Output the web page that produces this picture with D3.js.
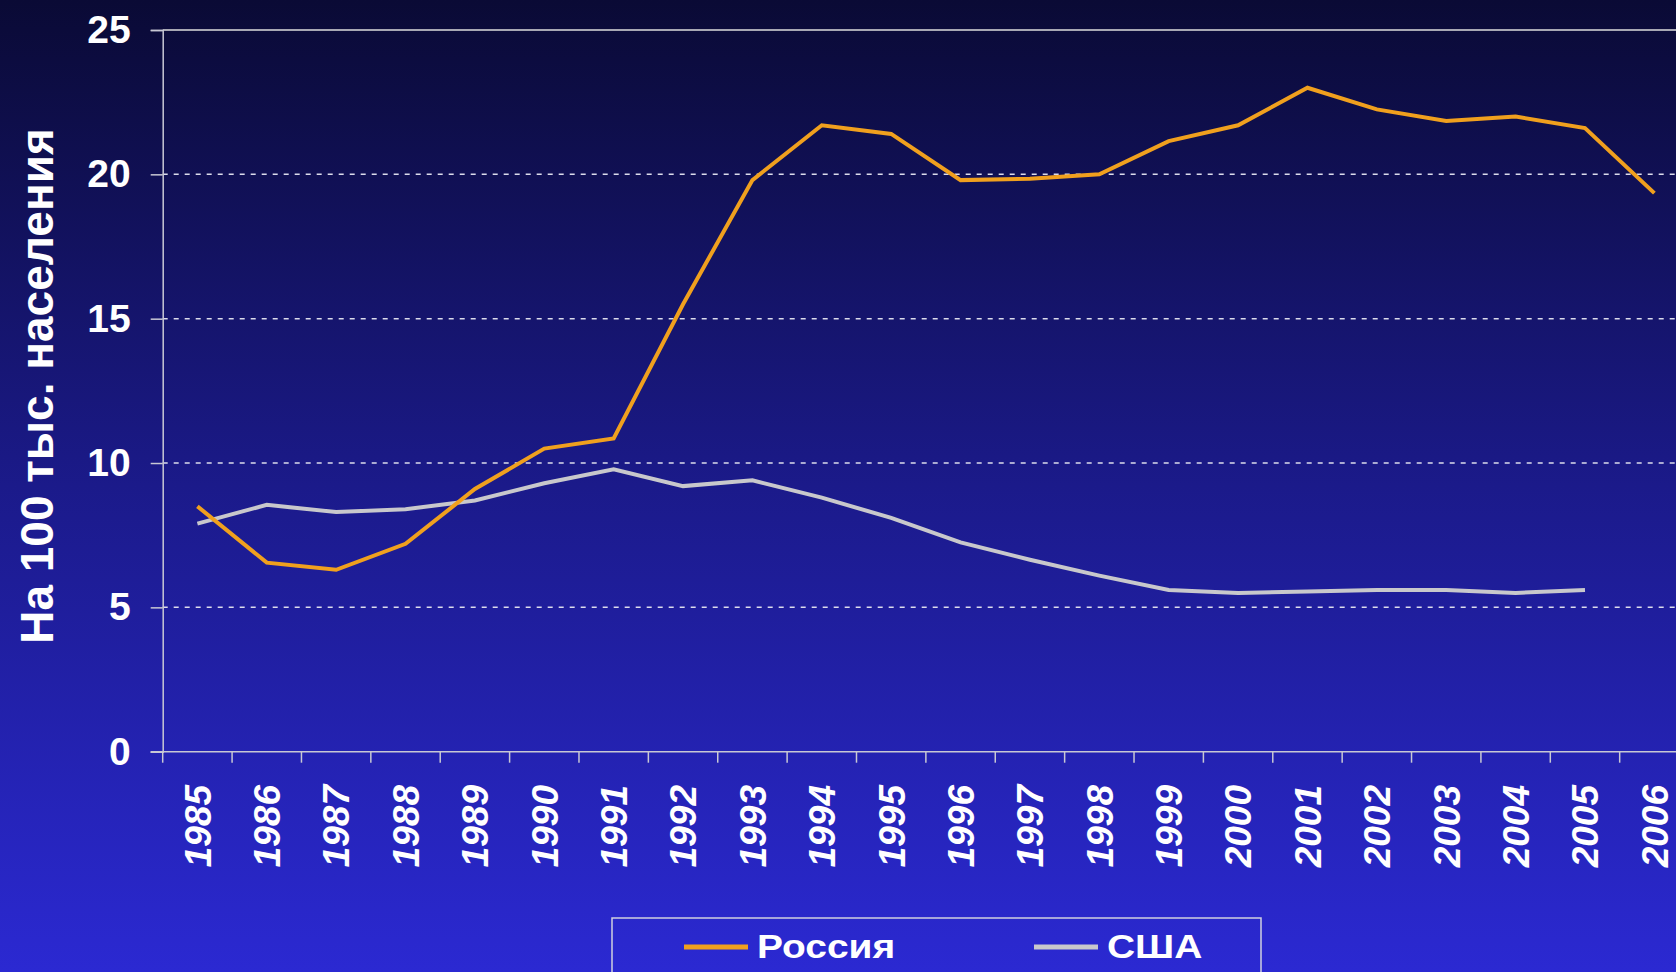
<!DOCTYPE html>
<html>
<head>
<meta charset="utf-8">
<script src="https://cdn.jsdelivr.net/npm/d3@7"></script>
<style>
    html, body { margin: 0; padding: 0; overflow: hidden; }
    svg { display: block; font-family: "Liberation Sans", Arial, sans-serif; }
</style>
</head>
<body>
<svg id="svg-main"></svg>
<script>
const YEARS = [1985, 1986, 1987, 1988, 1989, 1990, 1991, 1992, 1993, 1994, 1995,
               1996, 1997, 1998, 1999, 2000, 2001, 2002, 2003, 2004, 2005, 2006];
const RUSSIA = [8.5, 6.55, 6.3, 7.2, 9.1, 10.5, 10.85, 15.5, 19.8, 21.7, 21.4,
                19.8, 19.85, 20.0, 21.15, 21.7, 23.0, 22.25, 21.85, 22.0, 21.6, 19.35];
const USA = [7.9, 8.55, 8.3, 8.4, 8.7, 9.3, 9.78, 9.2, 9.4, 8.8, 8.1,
             7.25, 6.65, 6.1, 5.6, 5.5, 5.55, 5.6, 5.6, 5.5, 5.6];
const Y_TICKS = [0, 5, 10, 15, 20, 25];
const Y_TITLE = "На 100 тыс. населения";
const SERIES_NAMES = ["Россия", "США"];

var Dims = {
    Width: 1676,
    Height: 972,
    Plot: { Left: 162.7, Top: 30, Bottom: 751.7, Step: 69.38 }
};

var svg = d3.select("#svg-main")
    .attr("width", Dims.Width)
    .attr("height", Dims.Height);

var defs = svg.append("defs");
var grad = defs.append("linearGradient")
    .attr("id", "bg-grad")
    .attr("x1", 0).attr("y1", 0).attr("x2", 0).attr("y2", 1);
grad.append("stop").attr("offset", "0%").attr("stop-color", "#0a0a35");
grad.append("stop").attr("offset", "50%").attr("stop-color", "#1b1a8a");
grad.append("stop").attr("offset", "100%").attr("stop-color", "#2b29d2");

svg.append("rect")
    .attr("width", Dims.Width)
    .attr("height", Dims.Height)
    .attr("fill", "url(#bg-grad)");

var x = d3.scaleBand()
    .domain(YEARS)
    .range([Dims.Plot.Left, Dims.Plot.Left + YEARS.length * Dims.Plot.Step])
    .padding(0);

var y = d3.scaleLinear()
    .domain([0, 25])
    .range([Dims.Plot.Bottom, Dims.Plot.Top]);

var xRight = x.range()[1];
var chart = svg.append("g").attr("id", "main-chart-grp");

// dashed gridlines
chart.selectAll(".grid")
    .data(Y_TICKS.filter(d => d > 0 && d < 25))
    .enter()
    .append("line")
    .attr("class", "grid")
    .attr("x1", Dims.Plot.Left)
    .attr("x2", xRight)
    .attr("y1", d => y(d))
    .attr("y2", d => y(d))
    .attr("stroke", "#dcdcec")
    .attr("stroke-width", 1.5)
    .attr("stroke-dasharray", "5,6");

// top border
chart.append("line")
    .attr("x1", Dims.Plot.Left)
    .attr("x2", xRight)
    .attr("y1", y(25))
    .attr("y2", y(25))
    .attr("stroke", "#a8a8b4")
    .attr("stroke-width", 2);

// y axis
var yAxis = chart.append("g")
    .attr("transform", `translate(${Dims.Plot.Left},0)`)
    .call(d3.axisLeft(y).tickValues(Y_TICKS).tickSize(12).tickPadding(20));
yAxis.select(".domain").attr("stroke", "#c8c8d4").attr("stroke-width", 1.5);
yAxis.selectAll(".tick line").attr("stroke", "#c8c8d4").attr("stroke-width", 1.5);
yAxis.selectAll(".tick text")
    .attr("fill", "#ffffff")
    .attr("font-size", 39)
    .attr("font-weight", "bold")
    .attr("font-family", "'Liberation Sans', Arial, sans-serif");

// x axis
chart.append("line")
    .attr("x1", Dims.Plot.Left - 12)
    .attr("x2", xRight)
    .attr("y1", y(0))
    .attr("y2", y(0))
    .attr("stroke", "#c8c8d4")
    .attr("stroke-width", 1.5);

chart.selectAll(".x-tick")
    .data(YEARS)
    .enter()
    .append("line")
    .attr("class", "x-tick")
    .attr("x1", d => x(d))
    .attr("x2", d => x(d))
    .attr("y1", y(0))
    .attr("y2", y(0) + 11)
    .attr("stroke", "#c8c8d4")
    .attr("stroke-width", 1.5);

chart.selectAll(".x-label")
    .data(YEARS)
    .enter()
    .append("text")
    .attr("class", "x-label")
    .attr("transform", d => `translate(${x(d) + x.bandwidth() / 2},785) rotate(-90)`)
    .attr("text-anchor", "end")
    .attr("dy", "0.36em")
    .attr("fill", "#ffffff")
    .attr("font-size", 37)
    .attr("font-weight", "bold")
    .attr("font-style", "italic")
    .text(d => d);

// y title
svg.append("text")
    .attr("transform", "translate(36,386) rotate(-90)")
    .attr("text-anchor", "middle")
    .attr("dy", "0.36em")
    .attr("fill", "#ffffff")
    .attr("font-size", 46)
    .attr("font-weight", "bold")
    .text(Y_TITLE);

// lines
var line = d3.line()
    .x((d, i) => x(YEARS[i]) + x.bandwidth() / 2)
    .y(d => y(d));

chart.append("path")
    .datum(USA)
    .attr("d", line)
    .attr("fill", "none")
    .attr("stroke", "#c8c8cc")
    .attr("stroke-width", 4);

chart.append("path")
    .datum(RUSSIA)
    .attr("d", line)
    .attr("fill", "none")
    .attr("stroke", "#f0a01e")
    .attr("stroke-width", 4);

// legend
var legend = svg.append("g").attr("id", "legend-grp");
legend.append("rect")
    .attr("x", 612)
    .attr("y", 918)
    .attr("width", 649)
    .attr("height", 80)
    .attr("fill", "none")
    .attr("stroke", "#d0d0e0")
    .attr("stroke-width", 1.5);

var legendItems = [
    { name: SERIES_NAMES[0], color: "#f0a01e", x: 684 },
    { name: SERIES_NAMES[1], color: "#c8c8cc", x: 1034 }
];

var li = legend.selectAll(".legend-item")
    .data(legendItems)
    .enter()
    .append("g")
    .attr("class", "legend-item")
    .attr("transform", d => `translate(${d.x},947)`);

li.append("line")
    .attr("x1", 0).attr("x2", 64)
    .attr("y1", 0).attr("y2", 0)
    .attr("stroke", d => d.color)
    .attr("stroke-width", 5);

li.append("text")
    .attr("transform", "translate(73,11) scale(1.18,1)")
    .attr("fill", "#ffffff")
    .attr("font-size", 33)
    .attr("font-weight", "bold")
    .text(d => d.name);
</script>
</body>
</html>
